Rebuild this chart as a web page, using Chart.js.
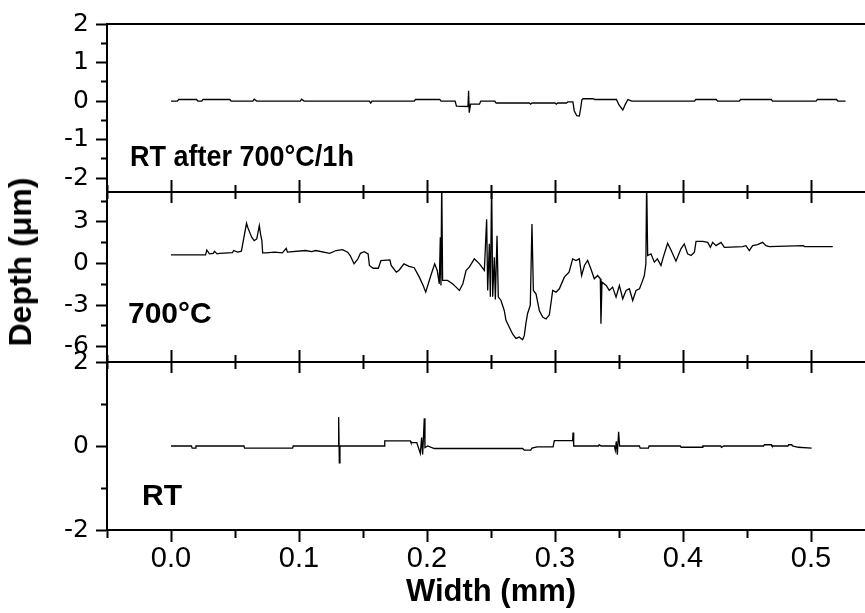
<!DOCTYPE html>
<html>
<head>
<meta charset="utf-8">
<script src="https://cdn.jsdelivr.net/npm/chart.js@4.4.0/dist/chart.umd.min.js"></script>
<style>
html, body { margin: 0; padding: 0; background: #fff; overflow: hidden; }
#wrap { position: relative; width: 865px; height: 613px; overflow: hidden; }
#wrap canvas { position: absolute; left: 0; top: 0; }
.lbl { position: absolute; z-index: 5; font-family: "Liberation Sans", Arial, sans-serif; font-weight: bold;
       font-size: 30px; line-height: 1; color: #000; white-space: nowrap; }
#toplab { transform: scaleX(0.9); transform-origin: 0 0; }
#ylab { left: 20px; top: 262px; font-size: 32px; transform: translate(-50%, -50%) rotate(-90deg); }
</style>
</head>
<body>
<div id="wrap">
  <canvas id="annealed" width="875" height="613"></canvas>
  <canvas id="hot" width="875" height="613"></canvas>
  <canvas id="room" width="875" height="613"></canvas>
  <div class="lbl" id="toplab" style="left:130px;top:141px">RT after 700°C/1h</div>
  <div class="lbl" style="left:128px;top:298px">700°C</div>
  <div class="lbl" style="left:142px;top:480px">RT</div>
  <div class="lbl" id="ylab">Depth (μm)</div>
</div>
<script>
// labelled tick values
const widthTicks = [0, 0.1, 0.2, 0.3, 0.4, 0.5];
const annealedTicks = [-2, -1, 0, 1, 2];
const hotTicks = [-6, -3, 0, 3];
const roomTicks = [-2, 0, 2];

// RT after 700°C/1h profile
const annealedWidth = [0, 0.005, 0.006, 0.02, 0.021, 0.024, 0.025, 0.046, 0.047, 0.064, 0.065, 0.067, 0.101, 0.102, 0.104,
  0.155, 0.156, 0.157, 0.19, 0.191, 0.21, 0.211, 0.222, 0.223, 0.232, 0.2325, 0.233, 0.234, 0.241, 0.242, 0.253, 0.254,
  0.28, 0.281, 0.282, 0.30, 0.301, 0.302, 0.309, 0.31, 0.314, 0.315, 0.317, 0.319, 0.320, 0.321, 0.322, 0.33, 0.331,
  0.348, 0.35, 0.353, 0.355, 0.357, 0.36, 0.409, 0.41, 0.426, 0.427, 0.444, 0.445, 0.469, 0.47, 0.504, 0.505, 0.52, 0.521, 0.527];
const annealedDepth = [0, 0, 0.04, 0.04, 0, 0, 0.04, 0.04, 0, 0, 0.05, 0, 0, 0.05, 0,
  0, -0.05, 0, 0, 0.04, 0.04, 0, 0, -0.13, -0.14, 0.27, -0.3, -0.08, -0.08, 0, 0, -0.05,
  -0.05, -0.08, -0.05, -0.05, -0.08, -0.05, -0.05, -0.02, -0.02, -0.25, -0.38, -0.39, -0.2, 0.03, 0.06, 0.06, 0.04,
  0.04, -0.1, -0.23, -0.08, 0.04, 0, 0, 0.04, 0.04, 0, 0, 0.04, 0.04, 0, 0, 0.04, 0.04, 0, 0];

// 700°C profile
const hotWidth = [0, 0.027, 0.028, 0.030, 0.033, 0.034, 0.036, 0.038, 0.048, 0.049, 0.052, 0.055, 0.057, 0.059, 0.060,
  0.062, 0.063, 0.065, 0.067, 0.069, 0.070, 0.071, 0.0716, 0.074, 0.081, 0.087, 0.090, 0.091, 0.105, 0.110, 0.113,
  0.124, 0.129, 0.134, 0.138, 0.140, 0.143, 0.146, 0.148, 0.151, 0.154, 0.155, 0.158, 0.162, 0.164, 0.171, 0.172,
  0.176, 0.178, 0.182, 0.186, 0.190, 0.194, 0.197, 0.199, 0.201, 0.203, 0.206, 0.208, 0.2096, 0.2104, 0.2109, 0.2115,
  0.2122, 0.216, 0.220, 0.2227, 0.2253, 0.228, 0.2305, 0.233, 0.237, 0.241, 0.2448, 0.2466, 0.2474, 0.2487, 0.2495,
  0.2505, 0.2513, 0.2526, 0.2534, 0.2547, 0.2557, 0.2578, 0.2604, 0.2617, 0.2643, 0.267, 0.2695, 0.272, 0.2747, 0.276,
  0.2773, 0.2786, 0.2807, 0.282, 0.2831, 0.2852, 0.2878, 0.2904, 0.293, 0.2956, 0.2982, 0.3008, 0.3034, 0.3073, 0.311,
  0.3138, 0.3164, 0.319, 0.3208, 0.323, 0.3255, 0.328, 0.3307, 0.3333, 0.3354, 0.3359, 0.3367, 0.34, 0.3424, 0.345,
  0.3477, 0.3503, 0.3529, 0.3555, 0.3581, 0.3607, 0.3633, 0.366, 0.368, 0.3698, 0.371, 0.3716, 0.3724, 0.375, 0.3776,
  0.380, 0.3828, 0.3846, 0.388, 0.3906, 0.3945, 0.3984, 0.401, 0.4036, 0.4063, 0.4089, 0.4102, 0.4154, 0.4193, 0.4214,
  0.4232, 0.4258, 0.4297, 0.4323, 0.4466, 0.4492, 0.4518, 0.4544, 0.4583, 0.4622, 0.4648, 0.4674, 0.494, 0.495, 0.517];
const hotDepth = [0.62, 0.62, 0.98, 0.70, 0.74, 0.88, 0.70, 0.74, 0.79, 0.94, 0.82, 0.89, 1.9, 2.9, 2.6,
  2.14, 1.9, 1.65, 1.78, 2.73, 2.1, 1.65, 0.77, 0.77, 0.82, 0.77, 1.1, 0.82, 0.94, 0.86, 0.94,
  0.74, 0.94, 1.0, 0.82, 0.58, -0.02, 0.34, 0.74, 0.86, 0.70, -0.14, -0.34, -0.34, 0.22, 0.26, -0.14,
  -0.62, -0.5, -0.02, -0.2, -0.3, -0.98, -1.58, -2.06, -1.46, -0.86, -0.02, -0.5, -1.46, 1.9, -1.58, 6,
  -1.22, -1.22, -1.46, -1.7, -1.94, -1.46, -0.5, -0.26, 0.34, -0.02, -0.5, 3.2, -1.94, 1.42, -2.4,
  6, -2.4, 0.46, -2.6, 2.0, -2.4, -2.66, -3.4, -4.1, -4.6, -5.1, -5.4, -5.3, -5.5, -5.2,
  -4.3, -3.6, -3.0, 2.86, -1.94, -2.2, -3.4, -3.86, -4.0, -3.7, -1.94, -2.06, -1.82, -0.98, -0.62,
  0.34, 0.22, 0.34, -0.86, -0.14, 0.22, -0.38, -1.1, -0.86, -1.1, -4.34, -1.34, -1.58, -1.94, -1.7,
  -2.42, -1.58, -2.54, -1.94, -1.82, -2.66, -1.94, -1.82, -1.34, -0.86, -0.02, 6, 0.58, 0.7, 0.1,
  0.34, -0.14, 0.46, 1.46, 0.98, 0.17, 1.06, 1.42, 0.7, 0.58, 0.82, 1.6, 1.6, 1.53, 1.17,
  1.53, 1.29, 1.53, 1.17, 1.22, 1.29, 0.94, 1.29, 1.36, 1.53, 1.29, 1.22, 1.29, 1.22, 1.22];

// RT profile
const roomWidth = [0, 0.016, 0.0165, 0.019, 0.0195, 0.057, 0.0575, 0.095, 0.0955, 0.1305, 0.131, 0.1315, 0.132,
  0.1665, 0.167, 0.187, 0.1875, 0.192, 0.1948, 0.1958, 0.1966, 0.1979, 0.1984, 0.2005, 0.2057, 0.2747, 0.276, 0.281,
  0.282, 0.286, 0.2985, 0.2995, 0.3138, 0.3141, 0.3146, 0.334, 0.3345, 0.336, 0.3464, 0.3471, 0.3479, 0.3487, 0.3497,
  0.3505, 0.366, 0.3665, 0.373, 0.3735, 0.398, 0.3985, 0.415, 0.4155, 0.4295, 0.43, 0.432, 0.463, 0.4635, 0.469,
  0.4695, 0.482, 0.4825, 0.485, 0.4855, 0.49, 0.5005];
const roomDepth = [0, 0, -0.05, -0.05, 0, 0, -0.05, -0.05, 0, 0, 0.69, -0.40, 0,
  0, 0.12, 0.12, 0.08, 0.08, -0.18, 0.2, -0.2, 0.66, -0.04, 0, -0.06, -0.06, -0.1, -0.1,
  -0.05, -0.02, -0.02, 0.13, 0.13, 0.32, 0, 0, 0.03, 0, 0, -0.1, 0.11, -0.21, 0.34,
  0, 0, -0.05, -0.05, 0, 0, -0.03, -0.03, 0, 0, -0.03, 0, 0, 0.03, 0.03,
  0, 0, 0.03, 0.03, 0, -0.03, -0.05];

Chart.defaults.color = '#000';
Chart.defaults.font.family = 'Liberation Sans';

const onList = (list, v) => list.some(t => Math.abs(t - v) < 1e-6);
const points = (xs, ys) => xs.map((x, i) => ({ x, y: ys[i] }));

// left depth axis; unlabelled ticks are drawn short
function depthAxis(min, max, step, labelled) {
  return {
    type: 'linear', position: 'left', min, max,
    afterFit: s => { s.width = 107; },
    border: { display: true, color: '#000', width: 2 },
    grid: {
      drawOnChartArea: false, tickLength: 11, tickWidth: 2, tickColor: '#000',
      tickBorderDash: c => (c.tick && !onList(labelled, c.tick.value)) ? [0, 5, 6, 100] : []
    },
    ticks: {
      stepSize: step, includeBounds: false, autoSkip: false, padding: 7,
      font: { family: 'DejaVu Sans', size: 25 },
      callback: v => onList(labelled, v) ? String(v) : ''
    }
  };
}

// width axis; major ticks every 0.1, minor every 0.05
function widthAxis(position, len, minor, size, labels) {
  const minorDash = position === 'bottom' ? [minor, 100] : [0, len - minor, minor, 100];
  return {
    type: 'linear', axis: 'x', position, min: -0.05, max: 0.55,
    afterFit: s => { s.height = size; },
    border: { display: true, color: '#000', width: 2 },
    grid: {
      drawOnChartArea: false, drawTicks: len > 0, tickLength: len, tickWidth: 2, tickColor: '#000',
      tickBorderDash: c => (c.tick && !onList(widthTicks, c.tick.value)) ? minorDash : []
    },
    ticks: {
      display: labels, stepSize: 0.05, includeBounds: false, autoSkip: false, maxRotation: 0, padding: 0,
      font: { size: 29 },
      callback: v => onList(widthTicks, v) ? v.toFixed(1) : ''
    },
    title: {
      display: labels, text: 'Width (mm)', padding: 0,
      font: { size: 31, weight: 'bold', lineHeight: 1.2 }
    }
  };
}

function panel(id, padTop, padBottom, scales, data) {
  return new Chart(document.getElementById(id), {
    type: 'line',
    data: {
      datasets: [{ data, borderColor: '#000', borderWidth: 1.3, pointRadius: 0, tension: 0, fill: false }]
    },
    options: {
      responsive: false, animation: false, events: [],
      layout: { padding: { top: padTop, bottom: padBottom, left: 0, right: 0 } },
      plugins: { legend: { display: false }, tooltip: { enabled: false } },
      scales
    }
  });
}

panel('annealed', 24, 410, {
  x: widthAxis('bottom', 11, 6, 11, false),
  xTop: widthAxis('top', 0, 0, 0, false),
  y: depthAxis(-2.36, 2, 0.5, annealedTicks)
}, points(annealedWidth, annealedDepth));

panel('hot', 180, 240, {
  x: widthAxis('bottom', 11, 6, 11, false),
  xTop: widthAxis('top', 12, 7, 12, false),
  y: depthAxis(-7.1, 5.16, 1.5, hotTicks)
}, points(hotWidth, hotDepth));

panel('room', 350, 2, {
  x: widthAxis('bottom', 12, 7, 81, true),
  xTop: widthAxis('top', 12, 7, 12, false),
  y: depthAxis(-2, 2, 1, roomTicks)
}, points(roomWidth, roomDepth));
</script>
</body>
</html>
